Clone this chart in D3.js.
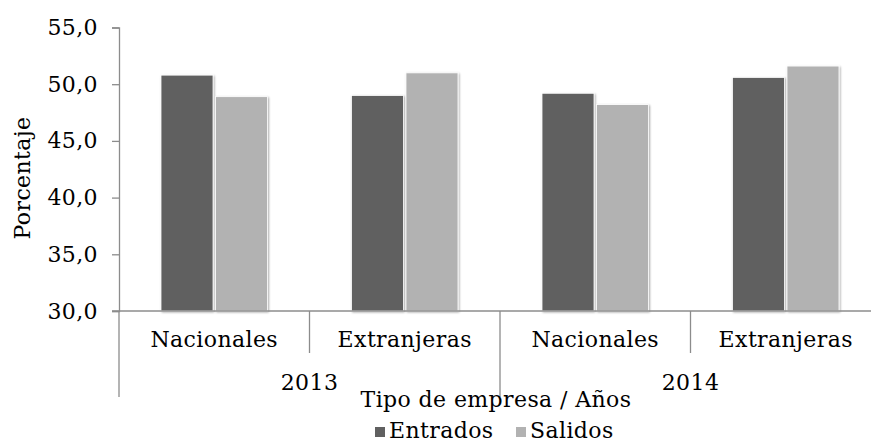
<!DOCTYPE html>
<html><head><meta charset="utf-8">
<script src="https://cdn.jsdelivr.net/npm/d3@7"></script>
<style>
html,body{margin:0;padding:0;background:#fff;}
text{font-family:"DejaVu Serif","Liberation Serif",serif;fill:#000;}
</style></head>
<body><svg id="c" width="871" height="445"></svg>
<script>
const years = ["2013", "2014"];
const types = ["Nacionales", "Extranjeras"];
const series = ["Entrados", "Salidos"];
const entrados = [50.8, 49.0, 49.2, 50.6];
const salidos = [48.9, 51.0, 48.2, 51.6];
const yTicks = [30, 35, 40, 45, 50, 55];
const colors = ["#606060", "#b2b2b2"];

const FS = "22px", LS = "0.4px";
const cats = [];
years.forEach(y => types.forEach(t => cats.push(y + "|" + t)));
const rows = cats.map((c, i) => ({cat: c, year: c.split("|")[0], type: c.split("|")[1], vals: [entrados[i], salidos[i]]}));

const svg = d3.select("#c");
const L = 119, R = 881, T = 27.5, B = 311;
const x0 = d3.scaleBand().domain(cats).range([L, R]).paddingInner(0).paddingOuter(0);
const bw = x0.bandwidth();
const x1 = d3.scaleBand().domain(series).range([42, bw - 42]).paddingInner(0.045);
const y = d3.scaleLinear().domain([30, 55]).range([B, T]);
const loc = d3.formatLocale({decimal: ",", thousands: ".", grouping: [3], currency: ["", "€"]});
const fmt = loc.format(".1f");

const defs = svg.append("defs");
const f = defs.append("filter").attr("id", "sh").attr("x", "-20%").attr("y", "-20%").attr("width", "140%").attr("height", "140%");
f.append("feGaussianBlur").attr("in", "SourceAlpha").attr("stdDeviation", 1.2).attr("result", "b");
f.append("feOffset").attr("in", "b").attr("dx", 0.8).attr("dy", 0.8).attr("result", "o");
f.append("feComponentTransfer").attr("in", "o").attr("result", "o2").append("feFuncA").attr("type", "linear").attr("slope", 0.35);
const m = f.append("feMerge");
m.append("feMergeNode").attr("in", "o2");
m.append("feMergeNode").attr("in", "SourceGraphic");

// bars
const g = svg.append("g");
rows.forEach(r => {
  series.forEach((s, j) => {
    g.append("rect")
      .attr("x", x0(r.cat) + x1(s))
      .attr("y", y(r.vals[j]))
      .attr("width", x1.bandwidth())
      .attr("height", B - y(r.vals[j]))
      .attr("fill", colors[j])
      .attr("stroke", "#ffffff").attr("stroke-width", 0.8)
      .attr("filter", "url(#sh)");
  });
});

const axisColor = "#8c8c8c";
// y axis
const ya = svg.append("g").attr("transform", `translate(${L},0)`)
  .call(d3.axisLeft(y).tickValues(yTicks).tickFormat(fmt).tickSize(7).tickPadding(14));
ya.select(".domain").attr("stroke", axisColor).attr("stroke-width", 1.3);
ya.selectAll(".tick line").attr("stroke", axisColor).attr("stroke-width", 1.3);
ya.selectAll("text").attr("font-size", FS).attr("letter-spacing", LS)
  .style("font-family", '"DejaVu Serif","Liberation Serif",serif').attr("fill", "#000");

// x axis baseline
svg.append("line").attr("x1", L - 7).attr("x2", R).attr("y1", B).attr("y2", B)
  .attr("stroke", axisColor).attr("stroke-width", 1.3);

// separators
svg.append("line").attr("x1", L).attr("x2", L).attr("y1", B).attr("y2", 397).attr("stroke", axisColor).attr("stroke-width", 1.3);
cats.forEach((c, i) => {
  if (i === 0) return;
  const xx = x0(c);
  const long = rows[i].year !== rows[i - 1].year;
  svg.append("line").attr("x1", xx).attr("x2", xx).attr("y1", B).attr("y2", long ? 397 : 353)
    .attr("stroke", axisColor).attr("stroke-width", 1.3);
});
svg.append("line").attr("x1", R).attr("x2", R).attr("y1", B).attr("y2", 397).attr("stroke", axisColor).attr("stroke-width", 1.3);

// category labels
rows.forEach(r => {
  svg.append("text").attr("x", x0(r.cat) + bw / 2).attr("y", 347)
    .attr("text-anchor", "middle").attr("font-size", FS).attr("letter-spacing", LS).text(r.type);
});
years.forEach(yr => {
  const cs = cats.filter(c => c.startsWith(yr));
  const cx = (x0(cs[0]) + x0(cs[cs.length - 1]) + bw) / 2;
  svg.append("text").attr("x", cx).attr("y", 390)
    .attr("text-anchor", "middle").attr("font-size", FS).attr("letter-spacing", LS).text(yr);
});

// axis titles
svg.append("text").attr("x", 496).attr("y", 407).attr("text-anchor", "middle")
  .attr("font-size", FS).attr("letter-spacing", LS).text("Tipo de empresa / Años");
svg.append("text").attr("transform", "translate(30,178) rotate(-90)").attr("text-anchor", "middle")
  .attr("font-size", FS).attr("letter-spacing", LS).text("Porcentaje");

// legend
const lg = svg.append("g");
const lx = [375, 516];
series.forEach((s, j) => {
  lg.append("rect").attr("x", lx[j]).attr("y", 427).attr("width", 10).attr("height", 10).attr("fill", colors[j]);
  lg.append("text").attr("x", lx[j] + 14).attr("y", 438).attr("font-size", FS).attr("letter-spacing", LS).text(s);
});
</script></body></html>
